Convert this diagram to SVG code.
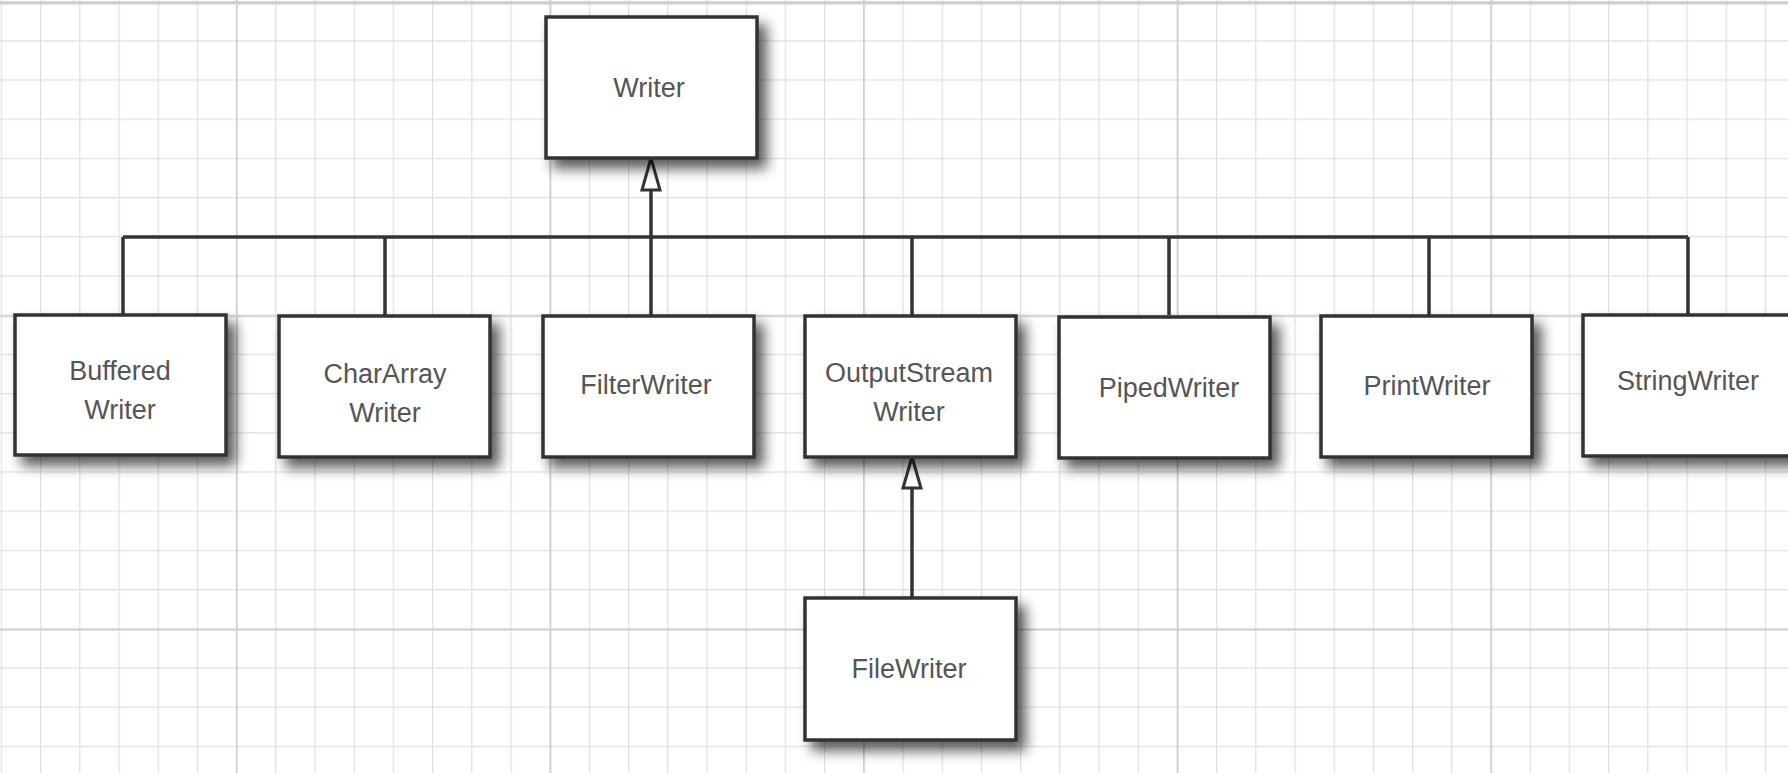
<svg xmlns="http://www.w3.org/2000/svg" width="1788" height="773" viewBox="0 0 1788 773">
<style>
.box{fill:#fff;stroke:#333;stroke-width:3.5}
.lbl{font-family:"Liberation Sans",Arial,sans-serif;font-size:27px;fill:#555;text-anchor:middle;dominant-baseline:central}
.conn{stroke:#333;stroke-width:3.5;fill:none}
.head{fill:#fff;stroke:#333;stroke-width:3}
</style>
<defs>
<pattern id="minor" patternUnits="userSpaceOnUse" x="0.8" y="1" width="39.2" height="39.2">
<path d="M0 0V39.2M0 0H39.2" stroke="#e0e0e0" stroke-width="2.5" fill="none"/>
</pattern>
<pattern id="major" patternUnits="userSpaceOnUse" x="236" y="1.8" width="313.6" height="313.6">
<path d="M0 0V313.6M0 0H313.6" stroke="#cccccc" stroke-width="3" fill="none"/>
</pattern>
<filter id="sh" x="-15%" y="-15%" width="140%" height="150%">
<feDropShadow dx="8" dy="9" stdDeviation="6.5" flood-color="#000" flood-opacity="0.65"/>
</filter>
</defs>
<rect width="1788" height="773" fill="#fff"/>
<rect width="1788" height="773" fill="url(#minor)"/>
<rect width="1788" height="773" fill="url(#major)"/>
<line x1="0" y1="3" x2="1788" y2="3" stroke="#cfcfcf" stroke-width="3"/>

<g id="connectors">
<path class="conn" d="M123 237H1688M123 237V315M385 237V315M912 237V315M1169 237V315M1429 237V315M1688 237V315"/>
<path class="conn" d="M651 316V190"/>
<path class="head" d="M651 158L642 190H660Z"/>
<path class="conn" d="M912 598V488"/>
<path class="head" d="M912 457L903 488H921Z"/>
</g>

<g id="writer"><rect class="box" x="546" y="17" width="211" height="141" filter="url(#sh)"/><text class="lbl" x="649" y="88">Writer</text></g>
<g id="bufferedwriter"><rect class="box" x="15" y="315" width="211" height="140" filter="url(#sh)"/><text class="lbl" x="120" y="371">Buffered</text><text class="lbl" x="120" y="410">Writer</text></g>
<g id="chararraywriter"><rect class="box" x="279" y="316" width="211" height="141" filter="url(#sh)"/><text class="lbl" x="385" y="374">CharArray</text><text class="lbl" x="385" y="413">Writer</text></g>
<g id="filterwriter"><rect class="box" x="543" y="316" width="211" height="141" filter="url(#sh)"/><text class="lbl" x="646" y="385">FilterWriter</text></g>
<g id="outputstreamwriter"><rect class="box" x="805" y="316" width="211" height="141" filter="url(#sh)"/><text class="lbl" x="909" y="373">OutputStream</text><text class="lbl" x="909" y="412">Writer</text></g>
<g id="pipedwriter"><rect class="box" x="1059" y="317" width="211" height="141" filter="url(#sh)"/><text class="lbl" x="1169" y="388">PipedWriter</text></g>
<g id="printwriter"><rect class="box" x="1321" y="316" width="211" height="141" filter="url(#sh)"/><text class="lbl" x="1427" y="386">PrintWriter</text></g>
<g id="stringwriter"><rect class="box" x="1583" y="315" width="211" height="141" filter="url(#sh)"/><text class="lbl" x="1688" y="381">StringWriter</text></g>
<g id="filewriter"><rect class="box" x="805" y="598" width="211" height="142" filter="url(#sh)"/><text class="lbl" x="909" y="669">FileWriter</text></g>
</svg>
